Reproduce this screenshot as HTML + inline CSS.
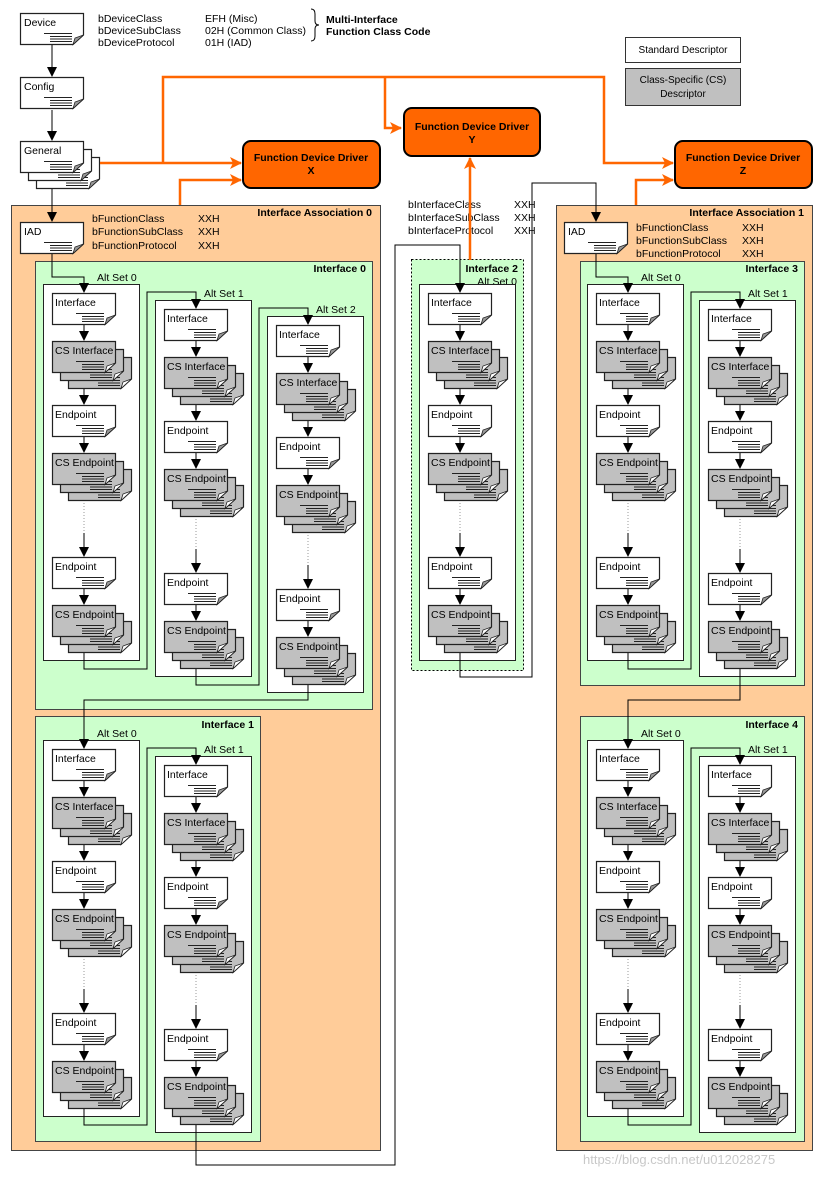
<!DOCTYPE html>
<html><head><meta charset="utf-8"><style>
html,body{margin:0;padding:0;background:#fff}
svg{display:block;font-family:"Liberation Sans",Arial,sans-serif}
</style></head><body>
<svg width="824" height="1177" viewBox="0 0 824 1177" xmlns="http://www.w3.org/2000/svg">
<defs>
<marker id="ab" markerWidth="10" markerHeight="10" refX="9" refY="5" orient="auto" markerUnits="userSpaceOnUse"><path d="M0,0 L10,5 L0,10 Z" fill="#000"/></marker>
<marker id="ao" markerWidth="12" markerHeight="12" refX="11" refY="6" orient="auto" markerUnits="userSpaceOnUse"><path d="M0,0 L12,6 L0,12 L3,6 Z" fill="#ff6600"/></marker>
<g id="d">
<path d="M0.5,0.5 H63.5 V22 L53,31.5 H0.5 Z" fill="#fff" stroke="#222" stroke-width="1.2"/>
<path d="M63.5,22 L53,31.5 L55,25 Z" fill="#999" stroke="#222" stroke-width="0.8"/>
<path d="M24,20.5 H52 M30,23.5 H52 M30,26 H52 M30,28.5 H52" stroke="#222" stroke-width="1.1"/>
</g>
<g id="dg">
<path d="M0.5,0.5 H63.5 V22 L53,31.5 H0.5 Z" fill="#c0c0c0" stroke="#222" stroke-width="1.2"/>
<path d="M63.5,22 L53,31.5 L55,25 Z" fill="#fff" stroke="#222" stroke-width="0.8"/>
<path d="M24,20.5 H52 M30,23.5 H52 M30,26 H52 M30,28.5 H52" stroke="#222" stroke-width="1.1"/>
</g>
<g id="g"><use href="#dg" x="16" y="16"/><use href="#dg" x="8" y="8"/><use href="#dg"/></g>
<g id="w3"><use href="#d" x="16" y="16"/><use href="#d" x="8" y="8"/><use href="#d"/></g>
<g id="col" font-size="10.5" fill="#000">
<g stroke="#000" stroke-width="1" fill="none">
<path d="M32,32 V47" marker-end="url(#ab)"/>
<path d="M32,80 V111" marker-end="url(#ab)"/>
<path d="M32,144 V159" marker-end="url(#ab)"/>
<path d="M32,192 V240" stroke="#999" stroke-dasharray="1,2"/>
<path d="M32,240 V263" marker-end="url(#ab)"/>
<path d="M32,296 V311" marker-end="url(#ab)"/>
</g>
<use href="#d"/><text x="3" y="13">Interface</text>
<use href="#g" y="48"/><text x="3" y="61">CS Interface</text>
<use href="#d" y="112"/><text x="3" y="125">Endpoint</text>
<use href="#g" y="160"/><text x="3" y="173">CS Endpoint</text>
<use href="#d" y="264"/><text x="3" y="277">Endpoint</text>
<use href="#g" y="312"/><text x="3" y="325">CS Endpoint</text>
</g>
</defs>

<!-- top header -->
<use href="#d" x="20" y="13"/><text x="24" y="26" font-size="10.5">Device</text>
<use href="#d" x="20" y="77"/><text x="24" y="90" font-size="10.5">Config</text>
<g font-size="10.5"><text x="98" y="22">bDeviceClass</text><text x="98" y="34">bDeviceSubClass</text><text x="98" y="46">bDeviceProtocol</text>
<text x="205" y="22">EFH (Misc)</text><text x="205" y="34">02H (Common Class)</text><text x="205" y="46">01H (IAD)</text></g>
<path d="M311,9 q4,0 4,5 v7 q0,4 4,4 q-4,0 -4,4 v7 q0,5 -4,5" fill="none" stroke="#000"/>
<g font-size="10.5" font-weight="bold"><text x="326" y="23">Multi-Interface</text><text x="326" y="35">Function Class Code</text></g>
<rect x="625.5" y="37.5" width="115" height="25" fill="#fff" stroke="#333"/>
<text x="683" y="53" font-size="10" text-anchor="middle">Standard Descriptor</text>
<rect x="625.5" y="68.5" width="115" height="37" fill="#c0c0c0" stroke="#333"/>
<text x="683" y="83" font-size="10" text-anchor="middle">Class-Specific (CS)</text>
<text x="683" y="97" font-size="10" text-anchor="middle">Descriptor</text>

<!-- association boxes -->
<rect x="11.5" y="205.5" width="369" height="945" fill="#ffcc99" stroke="#444"/>
<rect x="556.5" y="205.5" width="256" height="945" fill="#ffcc99" stroke="#444"/>
<rect x="35.5" y="261.5" width="337" height="448" fill="#ccffcc" stroke="#444"/>
<rect x="35.5" y="716.5" width="225" height="425" fill="#ccffcc" stroke="#444"/>
<rect x="411.5" y="259.5" width="112" height="411" fill="#ccffcc" stroke="#000" stroke-dasharray="2,2"/>
<rect x="580.5" y="261.5" width="224" height="424" fill="#ccffcc" stroke="#444"/>
<rect x="580.5" y="716.5" width="224" height="425" fill="#ccffcc" stroke="#444"/>
<g font-size="10.5" font-weight="bold" text-anchor="end">
<text x="372" y="216">Interface Association 0</text>
<text x="804" y="216">Interface Association 1</text>
<text x="366" y="272">Interface 0</text>
<text x="254" y="728">Interface 1</text>
<text x="518" y="272">Interface 2</text>
<text x="798" y="272">Interface 3</text>
<text x="798" y="728">Interface 4</text>
</g>
<text x="517" y="285" font-size="10.5" text-anchor="end">Alt Set 0</text>

<!-- alt set boxes -->
<g fill="#fff" stroke="#222">
<rect x="43.5" y="284.5" width="96" height="376"/>
<rect x="155.5" y="300.5" width="96" height="376"/>
<rect x="267.5" y="316.5" width="96" height="376"/>
<rect x="43.5" y="740.5" width="96" height="376"/>
<rect x="155.5" y="756.5" width="96" height="376"/>
<rect x="419.5" y="284.5" width="96" height="376"/>
<rect x="587.5" y="284.5" width="96" height="376"/>
<rect x="699.5" y="300.5" width="96" height="376"/>
<rect x="587.5" y="740.5" width="96" height="376"/>
<rect x="699.5" y="756.5" width="96" height="376"/>
</g>
<g font-size="10.5">
<text x="97" y="281">Alt Set 0</text><text x="204" y="297">Alt Set 1</text><text x="316" y="313">Alt Set 2</text>
<text x="97" y="737">Alt Set 0</text><text x="204" y="753">Alt Set 1</text>
<text x="641" y="281">Alt Set 0</text><text x="748" y="297">Alt Set 1</text>
<text x="641" y="737">Alt Set 0</text><text x="748" y="753">Alt Set 1</text>
</g>

<!-- black connectors -->
<g stroke="#000" stroke-width="1" fill="none">
<path d="M52,45 V76" marker-end="url(#ab)"/>
<path d="M52,110 V140" marker-end="url(#ab)"/>
<path d="M52,173 V221" marker-end="url(#ab)"/>
<path d="M52,254 V277 H84 V292" marker-end="url(#ab)"/>
<path d="M84,637 V669 H147 V292 H196 V308" marker-end="url(#ab)"/>
<path d="M196,653 V685 H259 V308 H308 V324" marker-end="url(#ab)"/>
<path d="M308,669 V700 H84 V748" marker-end="url(#ab)"/>
<path d="M84,1093 V1125 H147 V748 H196 V764" marker-end="url(#ab)"/>
<path d="M196,1109 V1165 H395 V245 H460 V292" marker-end="url(#ab)"/>
<path d="M460,637 V677 H532 V183 H596 V221" marker-end="url(#ab)"/>
<path d="M596,254 V277 H628 V292" marker-end="url(#ab)"/>
<path d="M628,637 V669 H691 V292 H740 V308" marker-end="url(#ab)"/>
<path d="M740,653 V700 H628 V748" marker-end="url(#ab)"/>
<path d="M628,1093 V1125 H691 V748 H740 V764" marker-end="url(#ab)"/>
</g>

<use href="#w3" x="20" y="141"/><text x="24" y="154" font-size="10.5">General</text>
<use href="#d" x="20" y="222"/><text x="24" y="235" font-size="10.5">IAD</text>
<use href="#d" x="564" y="222"/><text x="568" y="235" font-size="10.5">IAD</text>

<g font-size="10.5">
<text x="92" y="222">bFunctionClass</text><text x="92" y="235">bFunctionSubClass</text><text x="92" y="249">bFunctionProtocol</text>
<text x="198" y="222">XXH</text><text x="198" y="235">XXH</text><text x="198" y="249">XXH</text>
<text x="636" y="231">bFunctionClass</text><text x="636" y="244">bFunctionSubClass</text><text x="636" y="257">bFunctionProtocol</text>
<text x="742" y="231">XXH</text><text x="742" y="244">XXH</text><text x="742" y="257">XXH</text>
<text x="408" y="208">bInterfaceClass</text><text x="408" y="221">bInterfaceSubClass</text><text x="408" y="234">bInterfaceProtocol</text>
<text x="514" y="208">XXH</text><text x="514" y="221">XXH</text><text x="514" y="234">XXH</text>
</g>

<!-- columns -->
<use href="#col" x="52" y="293"/>
<use href="#col" x="164" y="309"/>
<use href="#col" x="276" y="325"/>
<use href="#col" x="52" y="749"/>
<use href="#col" x="164" y="765"/>
<use href="#col" x="428" y="293"/>
<use href="#col" x="596" y="293"/>
<use href="#col" x="708" y="309"/>
<use href="#col" x="596" y="749"/>
<use href="#col" x="708" y="765"/>

<!-- orange connectors -->
<g stroke="#ff6600" stroke-width="2.5" fill="none">
<path d="M100,163 H241" marker-end="url(#ao)"/>
<path d="M163,163 V77 H604 V163 H673" marker-end="url(#ao)"/>
<path d="M385,77 V128 H401" marker-end="url(#ao)"/>
<path d="M180,205 V180 H241" marker-end="url(#ao)"/>
<path d="M636,205 V180 H673" marker-end="url(#ao)"/>
<path d="M470,260 V158" marker-end="url(#ao)"/>
</g>

<!-- drivers -->
<g fill="#ff6600" stroke="#000" stroke-width="2">
<rect x="243" y="141" width="137" height="47" rx="8"/>
<rect x="404" y="108" width="136" height="48" rx="8"/>
<rect x="675" y="141" width="137" height="47" rx="8"/>
</g>
<g font-size="10.5" font-weight="bold" text-anchor="middle">
<text x="311" y="161">Function Device Driver</text><text x="311" y="174">X</text>
<text x="472" y="130">Function Device Driver</text><text x="472" y="143">Y</text>
<text x="743" y="161">Function Device Driver</text><text x="743" y="174">Z</text>
</g>

<text x="583" y="1164" font-size="13" fill="#c8c8c8">https://blog.csdn.net/u012028275</text>
</svg>
</body></html>
